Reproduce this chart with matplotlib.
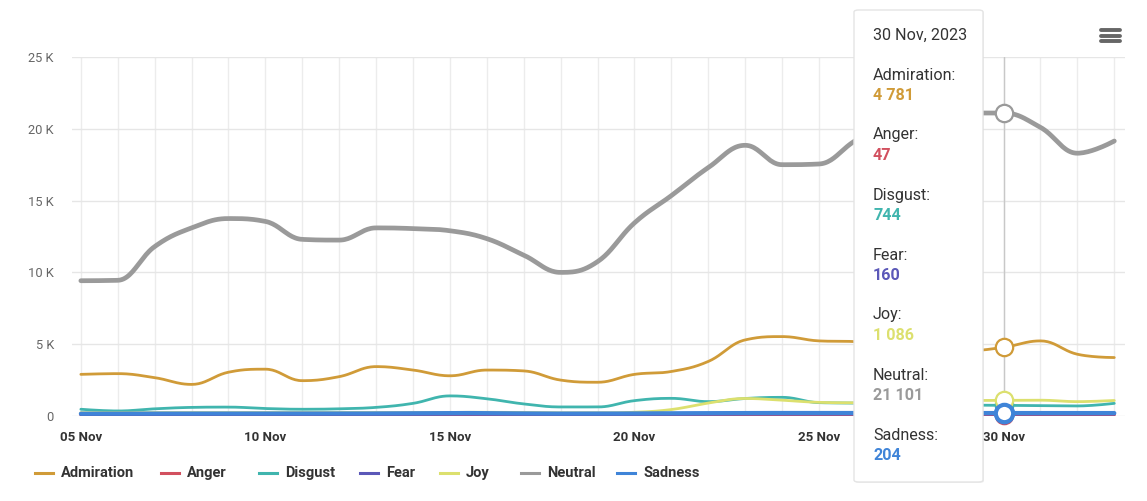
import numpy as np
import matplotlib
matplotlib.use("Agg")
import matplotlib.pyplot as plt
from matplotlib.lines import Line2D
from matplotlib.patches import FancyBboxPatch

plt.rcParams['font.family'] = ['Roboto', 'DejaVu Sans']

# ---------------- data ----------------
days = ["05 Nov", "06 Nov", "07 Nov", "08 Nov", "09 Nov", "10 Nov", "11 Nov", "12 Nov",
        "13 Nov", "14 Nov", "15 Nov", "16 Nov", "17 Nov", "18 Nov", "19 Nov", "20 Nov",
        "21 Nov", "22 Nov", "23 Nov", "24 Nov", "25 Nov", "26 Nov", "27 Nov", "28 Nov",
        "29 Nov", "30 Nov", "01 Dec", "02 Dec", "03 Dec"]

admiration = [2900, 2950, 2670, 2200, 3050, 3260, 2460, 2740, 3440, 3200, 2800, 3200,
              3140, 2500, 2350, 2900, 3100, 3800, 5300, 5530, 5230, 5180, 5000, 4800,
              4550, 4781, 5230, 4300, 4070]
anger = [50, 50, 50, 50, 50, 50, 50, 50, 50, 50, 50, 50, 50, 50, 50, 50, 50, 50, 50,
         50, 50, 50, 50, 50, 50, 47, 50, 50, 50]
disgust = [470, 350, 500, 600, 620, 520, 470, 500, 600, 880, 1400, 1200, 840, 630, 630,
           1070, 1230, 1000, 1220, 1300, 930, 900, 850, 800, 760, 744, 720, 700, 880]
fear = [130, 130, 130, 130, 130, 130, 130, 130, 130, 140, 150, 150, 140, 130, 130, 130,
        140, 150, 160, 160, 160, 160, 160, 160, 160, 160, 160, 160, 160]
joy = [230, 230, 230, 230, 230, 230, 230, 230, 230, 240, 260, 260, 240, 220, 220, 260,
       450, 900, 1220, 1100, 950, 920, 950, 1050, 1080, 1086, 1100, 1000, 1080]
neutral = [9420, 9450, 11800, 13100, 13750, 13550, 12300, 12250, 13100, 13050, 12900,
           12350, 11200, 10000, 10750, 13450, 15350, 17300, 18850, 17500, 17550, 19200,
           20500, 21000, 21100, 21101, 20100, 18300, 19150]
sadness = [160, 160, 170, 170, 170, 170, 170, 170, 180, 190, 210, 200, 180, 170, 170, 180,
           190, 200, 210, 210, 210, 210, 205, 205, 205, 204, 205, 205, 205]

series_names = ["Admiration", "Anger", "Disgust", "Fear", "Joy", "Neutral", "Sadness"]
series_values = [admiration, anger, disgust, fear, joy, neutral, sadness]
colors = ["#D09B38", "#D2505F", "#40B5AE", "#5B58B8", "#DCE06E", "#9A9A9A", "#3F84D8"]
widths = [2.0, 2.0, 2.0, 2.6, 2.0, 3.4, 3.0]

hover_index = 25
hover_title = "30 Nov, 2023"

W, H = 1147, 501


def fx(px):
    return px / W


def fy(py):
    return 1 - py / H


def spline(x, y, smoothing=1.5, n=24):
    x = np.asarray(x, float)
    y = np.asarray(y, float)
    m = len(x)
    lc = np.zeros((m, 2))
    rc = np.zeros((m, 2))
    denom = smoothing + 1
    for i in range(m):
        if 0 < i < m - 1:
            lx = (smoothing * x[i] + x[i - 1]) / denom
            ly = (smoothing * y[i] + y[i - 1]) / denom
            rx = (smoothing * x[i] + x[i + 1]) / denom
            ry = (smoothing * y[i] + y[i + 1]) / denom
            if rx != lx:
                corr = ((ry - ly) * (rx - x[i])) / (rx - lx) + y[i] - ry
                ly += corr
                ry += corr
            if ly > y[i - 1] and ly > y[i]:
                ly = max(y[i - 1], y[i]); ry = 2 * y[i] - ly
            elif ly < y[i - 1] and ly < y[i]:
                ly = min(y[i - 1], y[i]); ry = 2 * y[i] - ly
            if ry > y[i + 1] and ry > y[i]:
                ry = max(y[i + 1], y[i]); ly = 2 * y[i] - ry
            elif ry < y[i + 1] and ry < y[i]:
                ry = min(y[i + 1], y[i]); ly = 2 * y[i] - ry
            lc[i] = (lx, ly)
            rc[i] = (rx, ry)
        else:
            lc[i] = (x[i], y[i])
            rc[i] = (x[i], y[i])
    xs, ys = [x[0]], [y[0]]
    t = np.linspace(0, 1, n)[1:]
    for i in range(1, m):
        p0 = np.array([x[i - 1], y[i - 1]])
        p1 = rc[i - 1]
        p2 = lc[i]
        p3 = np.array([x[i], y[i]])
        b = ((1 - t) ** 3)[:, None] * p0 + (3 * (1 - t) ** 2 * t)[:, None] * p1 \
            + (3 * (1 - t) * t ** 2)[:, None] * p2 + (t ** 3)[:, None] * p3
        xs.extend(b[:, 0]); ys.extend(b[:, 1])
    return np.array(xs), np.array(ys)


fig = plt.figure(figsize=(W / 100, H / 100), dpi=100)
fig.patch.set_facecolor("white")
ax = fig.add_axes([fx(72), fy(416), fx(1125) - fx(72), fy(57) - fy(416)])
ax.set_facecolor("white")

xidx = np.arange(len(days))
ax.set_xlim(-0.24, 28.29)
ax.set_ylim(0, 25000)

for s in ax.spines.values():
    s.set_visible(False)

ax.set_yticks([0, 5000, 10000, 15000, 20000, 25000])
ax.set_yticklabels(["0", "5 K", "10 K", "15 K", "20 K", "25 K"], color="#666666", fontsize=9.3)
ax.set_xticks(xidx[::5])
ax.set_xticklabels(days[::5], fontsize=9.5, fontweight="bold", color="#333333")
ax.set_xticks(xidx, minor=True)
ax.tick_params(axis="both", which="both", length=0)
ax.tick_params(axis="y", pad=13)
ax.tick_params(axis="x", pad=11)
ax.grid(True, axis="y", color="#e6e6e6", lw=1)
ax.grid(True, axis="x", which="both", color="#ececec", lw=1)
ax.set_axisbelow(True)

for name, vals, c, lw in zip(series_names, series_values, colors, widths):
    sx, sy = spline(xidx, vals)
    ax.plot(sx, sy, color=c, lw=lw, solid_capstyle="round", zorder=3)

# crosshair
ax.axvline(xidx[hover_index], color="#c8c8c8", lw=1, zorder=2)
for name, vals, c in zip(series_names, series_values, colors):
    ew = 3 if name == "Sadness" else 1.6
    ax.plot([xidx[hover_index]], [vals[hover_index]], marker="o", ms=12.5,
            mfc="white", mec=c, mew=ew, zorder=5, clip_on=False)

# legend (manual, bottom)
leg_y = 473
leg_items = [(35, "Admiration"), (161, "Anger"), (259, "Disgust"), (360, "Fear"),
             (440, "Joy"), (521, "Neutral"), (617, "Sadness")]
for (px, name), c in zip(leg_items, colors):
    fig.add_artist(Line2D([fx(px), fx(px + 18)], [fy(leg_y), fy(leg_y)], color=c, lw=2.2))
    fig.text(fx(px + 26), fy(leg_y), name, fontsize=10.5, fontweight="bold",
             color="#333333", va="center", ha="left")

# hamburger menu
for yy in (30, 35.5, 41):
    fig.add_artist(Line2D([fx(1101), fx(1120)], [fy(yy), fy(yy)], color="#666666", lw=2.8,
                          solid_capstyle="round"))

# tooltip
tx0, ty0, tx1, ty1 = 854, 10, 983, 482
shadow = FancyBboxPatch((fx(tx0 + 1), fy(ty1 + 1)), fx(tx1) - fx(tx0), fy(ty0) - fy(ty1),
                        boxstyle="round,pad=0,rounding_size=0.004", transform=fig.transFigure,
                        facecolor="#000000", alpha=0.06, edgecolor="none", zorder=20)
fig.add_artist(shadow)
box = FancyBboxPatch((fx(tx0), fy(ty1)), fx(tx1) - fx(tx0), fy(ty0) - fy(ty1),
                     boxstyle="round,pad=0,rounding_size=0.004", transform=fig.transFigure,
                     facecolor="white", edgecolor="#e4e4e4", lw=1, zorder=21)
fig.add_artist(box)
fig.text(fx(873), fy(35), hover_title, fontsize=11.6, color="#333333", va="center", ha="left",
         zorder=22)


def fmt(v):
    return f"{v:,}".replace(",", " ")


for k, (name, vals, c) in enumerate(zip(series_names, series_values, colors)):
    yl = 75 + 60 * k
    fig.text(fx(873), fy(yl), name + ":", fontsize=11.6, color="#333333", va="center",
             ha="left", zorder=22)
    fig.text(fx(873), fy(yl + 20), fmt(vals[hover_index]), fontsize=11.6, fontweight="bold",
             color=c, va="center", ha="left", zorder=22)

fig.savefig("out.png", dpi=100, facecolor="white")
